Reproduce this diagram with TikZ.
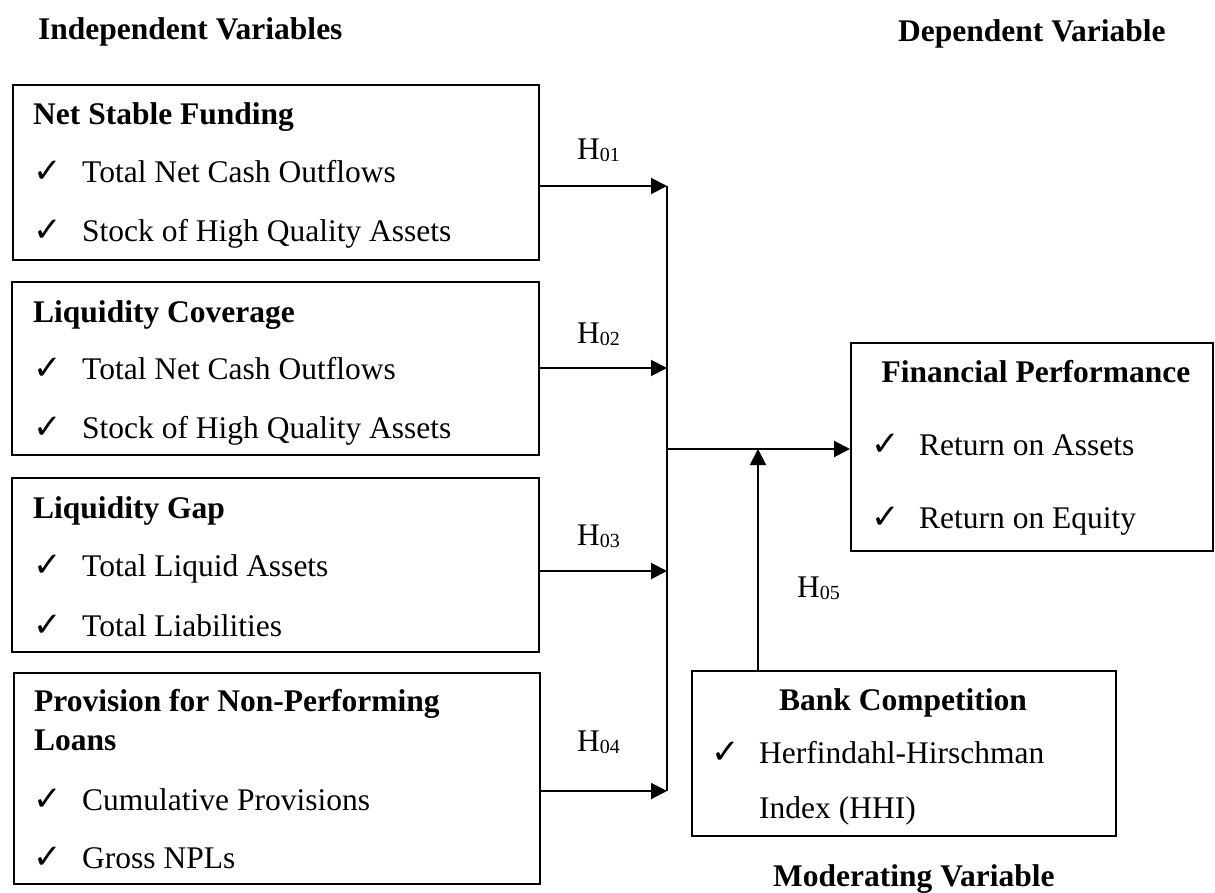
\documentclass[tikz,border=0pt]{standalone}
\usepackage{fontspec}
\setmainfont{Liberation Serif}
\newfontfamily\symfont{DejaVu Sans}
\usetikzlibrary{arrows.meta}
\newcommand{\Hyp}[1]{H\raisebox{-2pt}{\fontsize{20}{20}\selectfont #1}}
\begin{document}
\begin{tikzpicture}[x=1pt,y=-1pt,
  box/.style={draw, line width=1.8pt, anchor=north west, inner sep=0pt},
  txt/.style={anchor=base west, inner sep=0pt, font=\fontsize{31.5}{36}\selectfont},
  hd/.style={txt, font=\fontsize{31.5}{36}\selectfont\bfseries},
  chk/.style={anchor=base west, inner sep=0pt, font=\fontsize{34}{36}\symfont},
  arr/.style={-{Triangle[length=16pt,width=16pt]}, line width=2pt},
  ln/.style={line width=1.5pt}]
\useasboundingbox (0,0) rectangle (1215,893);

% headings
\node[hd] (indep) at (38,40) {Independent Variables};
\node[hd] (dep) at (898,42) {Dependent Variable};
\node[hd] (mod) at (773,886) {Moderating Variable};

% boxes
\node[box, minimum width=526pt, minimum height=175pt] (b1) at (12,84) {};
\node[box, minimum width=527pt, minimum height=173pt] (b2) at (11,281) {};
\node[box, minimum width=527pt, minimum height=174pt] (b3) at (11,477) {};
\node[box, minimum width=526pt, minimum height=211pt] (b4) at (13,672) {};
\node[box, minimum width=362pt, minimum height=208pt] (fin) at (850,342) {};
\node[box, minimum width=424pt, minimum height=165pt] (bank) at (691,670) {};

% box 1
\node[hd] (t1) at (33,125) {Net Stable Funding};
\node[chk] (c11) at (33,183) {✓};
\node[txt] (i11) at (82,183) {Total Net Cash Outflows};
\node[chk] (c12) at (33,242) {✓};
\node[txt] (i12) at (82,242) {Stock of High Quality Assets};

% box 2
\node[hd] (t2) at (33,322) {Liquidity Coverage};
\node[chk] (c21) at (33,379) {✓};
\node[txt] (i21) at (82,379) {Total Net Cash Outflows};
\node[chk] (c22) at (33,438) {✓};
\node[txt] (i22) at (82,438) {Stock of High Quality Assets};

% box 3
\node[hd] (t3) at (33,518) {Liquidity Gap};
\node[chk] (c31) at (33,576) {✓};
\node[txt] (i31) at (82,576) {Total Liquid Assets};
\node[chk] (c32) at (33,636) {✓};
\node[txt] (i32) at (82,636) {Total Liabilities};

% box 4
\node[hd] (t4a) at (34,711) {Provision for Non-Performing};
\node[hd] (t4b) at (34,750) {Loans};
\node[chk] (c41) at (33,810) {✓};
\node[txt] (i41) at (82,810) {Cumulative Provisions};
\node[chk] (c42) at (33,868) {✓};
\node[txt] (i42) at (82,868) {Gross NPLs};

% financial performance
\node[hd, anchor=base] (tf) at (1036,382) {Financial Performance};
\node[chk] (cf1) at (871,455) {✓};
\node[txt] (if1) at (919,455) {Return on Assets};
\node[chk] (cf2) at (871,528) {✓};
\node[txt] (if2) at (919,528) {Return on Equity};

% bank competition
\node[hd, anchor=base] (tb) at (903,710) {Bank Competition};
\node[chk] (cb1) at (711,763) {✓};
\node[txt] (ib1) at (759,763) {Herfindahl-Hirschman};
\node[txt] (ib2) at (759,818) {Index (HHI)};

% hypothesis labels
\node[txt] (h1) at (577,160) {\Hyp{01}};
\node[txt] (h2) at (577,343) {\Hyp{02}};
\node[txt] (h3) at (577,545) {\Hyp{03}};
\node[txt] (h4) at (577,751) {\Hyp{04}};
\node[txt] (h5) at (797,597) {\Hyp{05}};

% connectors
\coordinate (j1) at (667,186);
\coordinate (j2) at (667,368);
\coordinate (j3) at (667,571);
\coordinate (j4) at (667,791);
\coordinate (jm) at (667,449);
\coordinate (jb) at (758,449);

\draw[arr] (b1.east |- j1) -- (j1);
\draw[arr] (b2.east |- j2) -- (j2);
\draw[arr] (b3.east |- j3) -- (j3);
\draw[arr] (b4.east |- j4) -- (j4);
\draw[ln] (j1) -- (j4);
\draw[arr] (jm) -- (fin.west |- jm);
\draw[arr] (bank.north -| jb) -- (jb);
\end{tikzpicture}
\end{document}
